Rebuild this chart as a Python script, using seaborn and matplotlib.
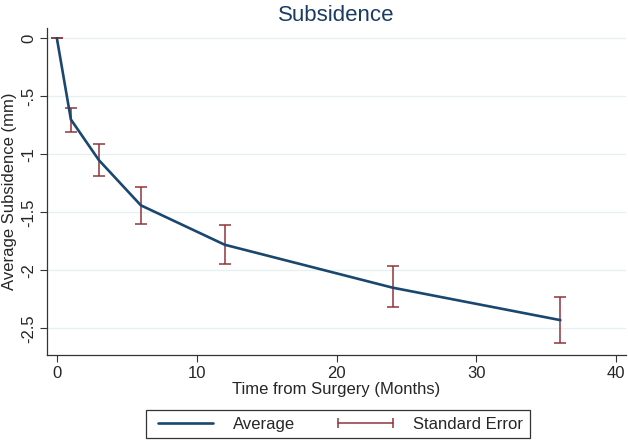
import numpy as np
import pandas as pd
import matplotlib
matplotlib.use("Agg")
import matplotlib.pyplot as plt
import seaborn as sns
from matplotlib.lines import Line2D

# data
months = [0, 1, 3, 6, 12, 24, 36]
avg_subsidence = [0.0, -0.70, -1.05, -1.44, -1.78, -2.15, -2.43]
se_upper = [0.0, -0.60, -0.91, -1.28, -1.61, -1.96, -2.23]
se_lower = [0.0, -0.81, -1.19, -1.60, -1.95, -2.32, -2.63]

y_ticks = [0, -0.5, -1, -1.5, -2, -2.5]
y_tick_labels = ["0", "-.5", "-1", "-1.5", "-2", "-2.5"]
x_ticks = [0, 10, 20, 30, 40]

navy = "#1a476f"
maroon = "#90353b"

df = pd.DataFrame({"months": months, "avg": avg_subsidence,
                   "hi": se_upper, "lo": se_lower})

sns.set_style("white")
plt.rcParams["font.family"] = ["Liberation Sans", "DejaVu Sans"]

fig = plt.figure(figsize=(6.28, 4.42), dpi=100)
ax = fig.add_axes([0.075, 0.197, 0.922, 0.74])

# error bars (range caps)
yerr = np.array([df["avg"] - df["lo"], df["hi"] - df["avg"]])
ax.errorbar(df["months"], df["avg"], yerr=yerr, fmt="none", ecolor=maroon,
            elinewidth=1.1, capsize=4, capthick=1.1, zorder=2)
sns.lineplot(data=df, x="months", y="avg", color=navy, linewidth=1.9, ax=ax, zorder=3)

ax.set_xlim(-0.7, 40.7)
ax.set_ylim(-2.73, 0.09)
ax.set_xticks(x_ticks)
ax.set_yticks(y_ticks)
ax.set_yticklabels(y_tick_labels, rotation=90, va="center")
ax.tick_params(axis="both", labelsize=12, length=5, width=0.8, color="#333333",
               direction="out", left=True, bottom=True, pad=3)
ax.grid(axis="y", color="#e6f0f2", linewidth=0.9)
ax.grid(axis="x", visible=False)
for side in ["top", "right"]:
    ax.spines[side].set_visible(False)
for side in ["left", "bottom"]:
    ax.spines[side].set_color("#333333")
    ax.spines[side].set_linewidth(0.9)

ax.set_title("Subsidence", fontsize=16, color="#1a3c63", pad=5)
ax.set_xlabel("Time from Surgery (Months)", fontsize=12, labelpad=1)
ax.set_ylabel("Average Subsidence (mm)", fontsize=12, labelpad=3)

handles = [Line2D([], [], color=navy, linewidth=1.9),
           Line2D([], [], color=maroon, linewidth=1.1, marker="|",
                  markersize=7, markeredgewidth=1.1)]
leg = fig.legend(handles, ["Average", "Standard Error"], loc="lower center",
                 bbox_to_anchor=(0.538, 0.008), ncol=2, numpoints=2,
                 fontsize=12, handlelength=3.9, columnspacing=2.3,
                 handletextpad=0.9, fancybox=False, framealpha=1,
                 borderpad=0.4, borderaxespad=0)
leg.get_frame().set_edgecolor("#333333")
leg.get_frame().set_linewidth(0.9)

fig.savefig("out.png", dpi=100)
